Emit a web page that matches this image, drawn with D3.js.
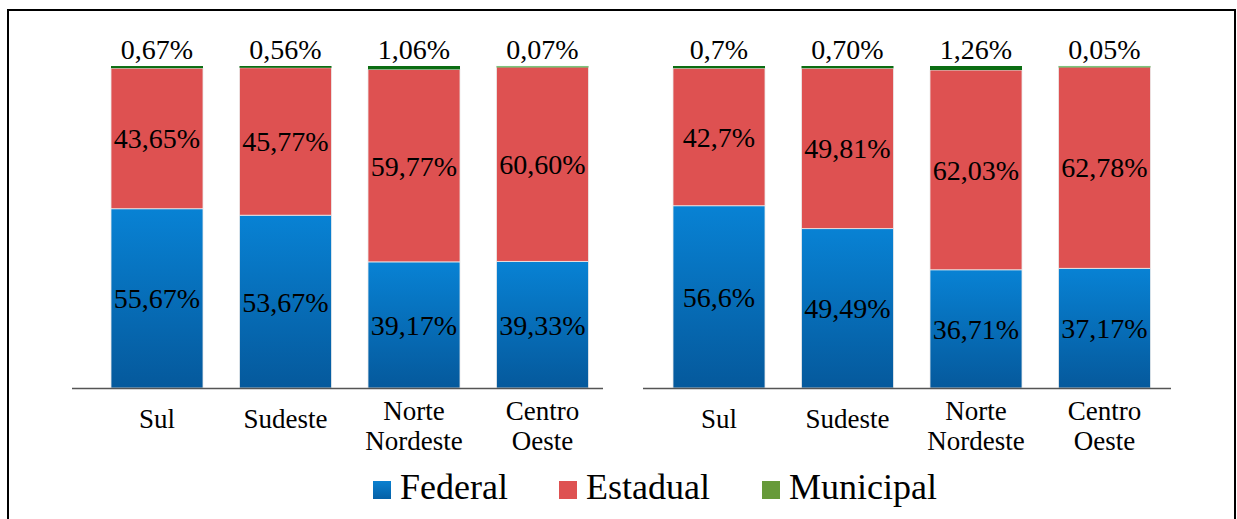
<!DOCTYPE html>
<html><head><meta charset="utf-8">
<script src="https://cdn.jsdelivr.net/npm/d3@7"></script>
</head>
<body style="margin:0"><svg id="c" width="1237" height="519"></svg>
<script>
const categories = ["Sul", "Sudeste", "Norte Nordeste", "Centro Oeste"];
const categoryLines = [["Sul"], ["Sudeste"], ["Norte", "Nordeste"], ["Centro", "Oeste"]];
const seriesNames = ["Federal", "Estadual", "Municipal"];

const federalA = [55.67, 53.67, 39.17, 39.33];
const estadualA = [43.65, 45.77, 59.77, 60.60];
const municipalA = [0.67, 0.56, 1.06, 0.07];
const federalLabelsA = ["55,67%", "53,67%", "39,17%", "39,33%"];
const estadualLabelsA = ["43,65%", "45,77%", "59,77%", "60,60%"];
const municipalLabelsA = ["0,67%", "0,56%", "1,06%", "0,07%"];

const federalB = [56.6, 49.49, 36.71, 37.17];
const estadualB = [42.7, 49.81, 62.03, 62.78];
const municipalB = [0.7, 0.70, 1.26, 0.05];
const federalLabelsB = ["56,6%", "49,49%", "36,71%", "37,17%"];
const estadualLabelsB = ["42,7%", "49,81%", "62,03%", "62,78%"];
const municipalLabelsB = ["0,7%", "0,70%", "1,26%", "0,05%"];

const svg = d3.select("#c").attr("font-family", "Liberation Serif");
const defs = svg.append("defs");
function grad(id, top, bottom) {
  const g = defs.append("linearGradient").attr("id", id).attr("x1", 0).attr("y1", 0).attr("x2", 0).attr("y2", 1);
  g.append("stop").attr("offset", "0%").attr("stop-color", top);
  g.append("stop").attr("offset", "100%").attr("stop-color", bottom);
}
grad("gFed", "#0882d4", "#05599c");
grad("gLegFed", "#0a80d0", "#0560a6");
const fills = {Federal: "url(#gFed)", Estadual: "#de5151", Municipal: "#0b6d12"};
const legendFills = {Federal: "url(#gLegFed)", Estadual: "#de5151", Municipal: "#679a3a"};

svg.append("rect").attr("x", 8).attr("y", 10).attr("width", 1227).attr("height", 530)
  .attr("fill", "none").attr("stroke", "#000").attr("stroke-width", 2);

const y = d3.scaleLinear().domain([0, 100]).range([388, 66]);

function addText(sel, x, yy, size, txt, anchor) {
  return sel.append("text")
    .attr("x", x).attr("y", yy)
    .attr("font-family", "Liberation Serif")
    .attr("font-size", size)
    .attr("text-anchor", anchor || "middle")
    .text(txt);
}

function panel(x0, axisX0, axisX1, fed, est, mun, fedL, estL, munL) {
  const rows = categories.map((c, i) => ({cat: c, Federal: fed[i], Estadual: est[i], Municipal: mun[i],
    labels: {Federal: fedL[i], Estadual: estL[i], Municipal: munL[i]}}));
  const x = d3.scaleBand().domain(categories).range([x0, x0 + 4 * 128.5]).paddingInner(0.284).paddingOuter(0.142);
  const stacked = d3.stack().keys(seriesNames)(rows);
  stacked.forEach(layer => {
    const key = layer.key;
    svg.selectAll(null).data(layer).join("rect")
      .attr("x", d => x(d.data.cat))
      .attr("width", x.bandwidth())
      .attr("y", d => y(d[1]))
      .attr("height", d => Math.max(y(d[0]) - y(d[1]), key === "Municipal" ? 1.6 : 0))
      .attr("fill", d => key === "Municipal" && d.data.Municipal < 0.2 ? "#7cc47c" : fills[key])
      .attr("stroke", key === "Municipal" ? "none" : "#ececec")
      .attr("stroke-width", 0.8);
  });
  ["Federal", "Estadual"].forEach((key, k) => {
    stacked[k].forEach(d => {
      addText(svg, x(d.data.cat) + x.bandwidth() / 2, (y(d[0]) + y(d[1])) / 2 + 10, 28, d.data.labels[key]);
    });
  });
  stacked[2].forEach(d => {
    addText(svg, x(d.data.cat) + x.bandwidth() / 2, y(d[1]) - 7, 28, d.data.labels.Municipal);
  });
  svg.append("line").attr("x1", axisX0).attr("x2", axisX1).attr("y1", y(0) + 0.5).attr("y2", y(0) + 0.5)
    .attr("stroke", "#555").attr("stroke-width", 1.6);
  categoryLines.forEach((lines, i) => {
    const cx = x(categories[i]) + x.bandwidth() / 2;
    const base = lines.length === 1 ? 428 : 420;
    lines.forEach((ln, j) => addText(svg, cx, base + j * 30, 27, ln));
  });
}

panel(92.75, 72, 603, federalA, estadualA, municipalA, federalLabelsA, estadualLabelsA, municipalLabelsA);
panel(654.75, 643, 1171, federalB, estadualB, municipalB, federalLabelsB, estadualLabelsB, municipalLabelsB);

const legendX = [373, 559, 762];
seriesNames.forEach((s, i) => {
  svg.append("rect").attr("x", legendX[i]).attr("y", 481).attr("width", 18).attr("height", 18).attr("fill", legendFills[s]);
  addText(svg, legendX[i] + 27, 499, 36, s, "start");
});
</script></body></html>
